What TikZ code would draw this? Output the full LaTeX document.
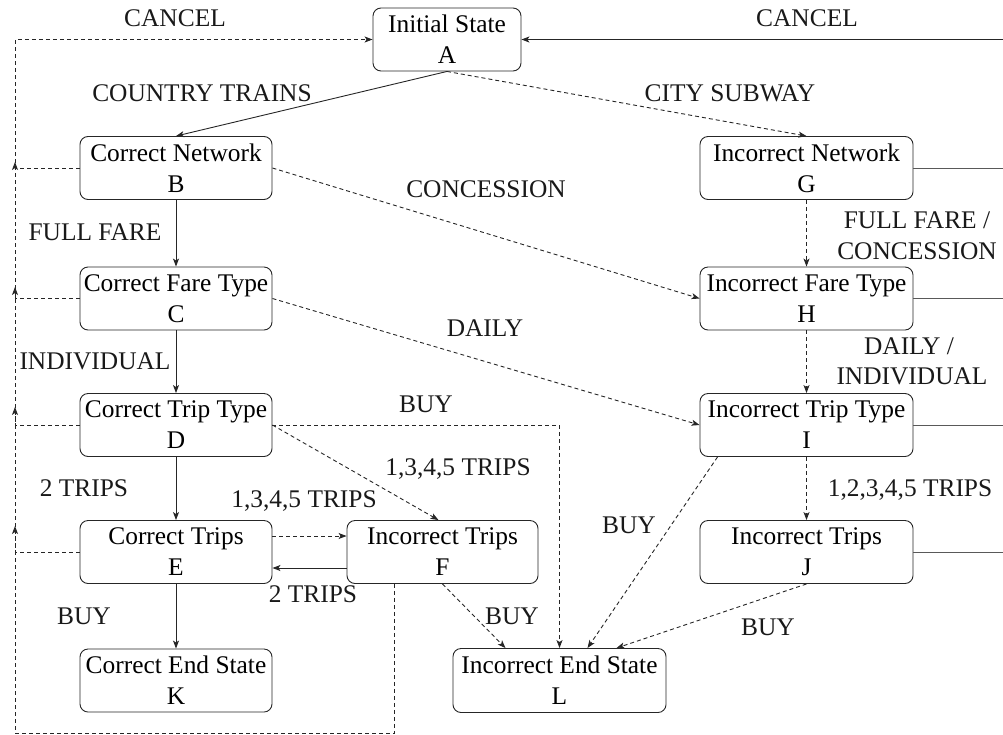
\documentclass[tikz,border=0pt]{standalone}
\usepackage{fontspec}
\setmainfont{Liberation Serif}
\usetikzlibrary{arrows.meta,calc}
\begin{document}
\begin{tikzpicture}[x=1pt,y=-1pt,
  font=\fontsize{25.4}{31}\selectfont,
  state/.style={draw=black!85, rounded corners=8pt, line width=0.9pt, align=center, inner sep=0pt, minimum height=63pt},
  lbl/.style={inner sep=0pt, text height=16.8pt, text depth=0pt, text=black!90},
  arr/.style={-{Stealth[length=8pt,width=6pt,inset=2pt]}, line width=0.9pt, draw=black!85},
  dsh/.style={dash pattern=on 4pt off 3pt},
  side/.style={line width=0.9pt, draw=black!65}
]
\useasboundingbox (0,0) rectangle (1003,734);

% states
\node[state, minimum width=148pt] (A) at (447,39.5) {Initial State\\A};
\node[state, minimum width=192pt] (B) at (176,168) {Correct Network\\B};
\node[state, minimum width=192pt] (C) at (176,298.5) {Correct Fare Type\\C};
\node[state, minimum width=192pt] (D) at (176,425) {Correct Trip Type\\D};
\node[state, minimum width=192pt] (E) at (176,552) {Correct Trips\\E};
\node[state, minimum width=192pt] (K) at (176,680.5) {Correct End State\\K};
\node[state, minimum width=191pt] (F) at (442.5,552) {Incorrect Trips\\F};
\node[state, minimum width=213pt, minimum height=64pt] (L) at (559.5,680.5) {Incorrect End State\\L};
\node[state, minimum width=213pt] (G) at (806.5,168) {Incorrect Network\\G};
\node[state, minimum width=213pt] (H) at (806.5,298.5) {Incorrect Fare Type\\H};
\node[state, minimum width=213pt] (I) at (806.5,425) {Incorrect Trip Type\\I};
\node[state, minimum width=213pt] (J) at (806.5,552) {Incorrect Trips\\J};

% free ends
\coordinate (RA) at (1003,39.5);
\coordinate (Rx) at (1003,0);
\coordinate (Fout) at ($(F.south west)+(48,0)$);
\coordinate (BL) at (15,733);
\coordinate (tB) at (15,162);
\coordinate (tC) at (15,287);
\coordinate (tD) at (15,407);
\coordinate (tE) at (15,526);

% cancel paths
\draw[arr] (RA) -- (A.east);
\draw[side] (G.east) -- (G.east -| Rx);
\draw[side] (H.east) -- (H.east -| Rx);
\draw[side] (I.east) -- (I.east -| Rx);
\draw[side] (J.east) -- (J.east -| Rx);
\draw[arr,dsh] (Fout) |- (BL) |- (A.west);
\draw[arr,dsh] (B.west) -| (tB);
\draw[arr,dsh] (C.west) -| (tC);
\draw[arr,dsh] (D.west) -| (tD);
\draw[arr,dsh] (E.west) -| (tE);

% transitions
\draw[arr] (A.south) -- (B.north);
\draw[arr,dsh] (A.south) -- (G.north);
\draw[arr] (B.south) -- (C.north);
\draw[arr,dsh] (B.east) -- (H.west);
\draw[arr] (C.south) -- (D.north);
\draw[arr,dsh] (C.east) -- (I.west);
\draw[arr] (D.south) -- (E.north);
\draw[arr,dsh] (D.east) -- ($(F.north)+(-4,0)$);
\draw[arr,dsh] (D.east) -| (L.north);
\draw[arr,dsh] ([yshift=16pt]E.east) -- ([yshift=16pt]F.west);
\draw[arr] ([yshift=-16pt]F.west) -- ([yshift=-16pt]E.east);
\draw[arr] (E.south) -- (K.north);
\draw[arr,dsh] (F.south) -- ($(L.north)+(-54,0)$);
\draw[arr,dsh] (G.south) -- (H.north);
\draw[arr,dsh] (H.south) -- (I.north);
\draw[arr,dsh] (I.south) -- (J.north);
\draw[arr,dsh] ($(I.south west)+(18,0)$) -- ($(L.north)+(28,0)$);
\draw[arr,dsh] (J.south) -- ($(L.north)+(57,0)$);

% labels
\node[lbl] (l1) at (175,18.5) {CANCEL};
\node[lbl] (l2) at (807,18.5) {CANCEL};
\node[lbl] (l3) at (202,93.5) {COUNTRY TRAINS};
\node[lbl] (l4) at (730,93.5) {CITY SUBWAY};
\node[lbl] (l5) at (486,189) {CONCESSION};
\node[lbl] (l6) at (95,232) {FULL FARE};
\node[lbl] (l7a) at (917,220) {FULL FARE /};
\node[lbl] (l7b) at (917,251) {CONCESSION};
\node[lbl] (l8) at (95,361) {INDIVIDUAL};
\node[lbl] (l9) at (485,328) {DAILY};
\node[lbl] (l10a) at (909,346) {DAILY /};
\node[lbl] (l10b) at (912,376) {INDIVIDUAL};
\node[lbl] (l11) at (426,404) {BUY};
\node[lbl] (l12) at (458,467) {1,3,4,5 TRIPS};
\node[lbl] (l13) at (84,488) {2 TRIPS};
\node[lbl] (l14) at (304,499) {1,3,4,5 TRIPS};
\node[lbl] (l15) at (910,488) {1,2,3,4,5 TRIPS};
\node[lbl] (l16) at (629,525) {BUY};
\node[lbl] (l17) at (313,594) {2 TRIPS};
\node[lbl] (l18) at (84,616) {BUY};
\node[lbl] (l19) at (512,616) {BUY};
\node[lbl] (l20) at (768,627) {BUY};
\end{tikzpicture}
\end{document}
